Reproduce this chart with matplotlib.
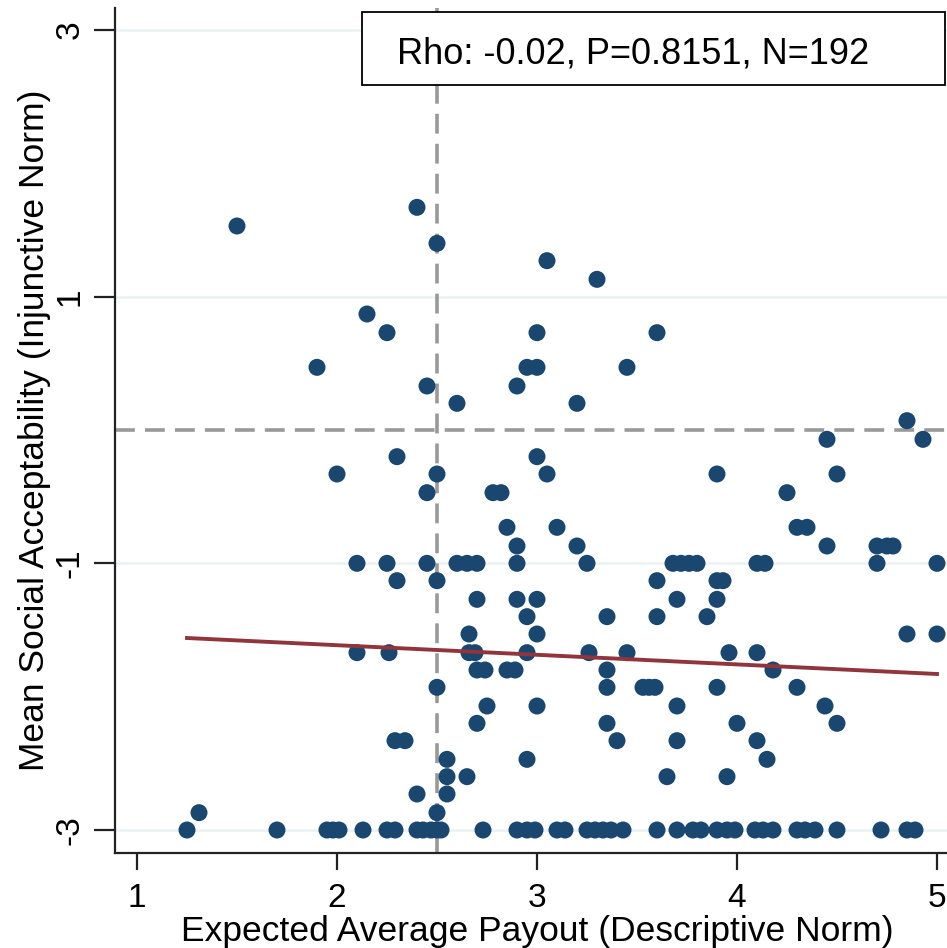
import matplotlib
matplotlib.use("Agg")
import matplotlib.pyplot as plt
import matplotlib.patches as mpatches
import numpy as np

# ---------------- data ----------------
x_vals = [
    # upper part
    1.50, 2.40, 2.50, 3.05, 3.30, 2.15, 2.25, 1.90, 2.45, 2.60,
    3.00, 2.95, 3.00, 2.90, 3.60, 3.45, 3.20, 3.00, 3.05, 2.78,
    2.82, 2.30, 2.00, 2.50, 2.45, 3.90, 4.25, 4.30, 4.35, 4.45,
    4.50, 4.85, 4.93, 4.45, 2.85, 2.90, 3.10, 3.20, 4.70, 4.75, 4.78,
    # y = -1
    2.10, 2.25, 2.45, 2.60, 2.65, 2.70, 2.90, 3.25, 3.68, 3.72,
    3.76, 3.80, 4.10, 4.14, 4.70, 5.00,
    # y = -1.13
    2.30, 2.50, 3.60, 3.90, 3.93,
    # y = -1.27
    2.70, 2.90, 3.00, 3.70, 3.90,
    # y = -1.40
    2.95, 3.35, 3.60, 3.85,
    # y = -1.53
    2.66, 3.00, 4.85, 5.00,
    # y = -1.67
    2.10, 2.26, 2.66, 2.69, 2.95, 3.26, 3.45, 3.96, 4.10,
    # y = -1.80
    2.70, 2.74, 2.85, 2.89, 3.35, 4.18,
    # y = -1.93
    2.50, 3.35, 3.53, 3.56, 3.59, 3.90, 4.30,
    # y = -2.07
    2.75, 3.00, 3.70, 4.44,
    # y = -2.20
    2.70, 3.35, 4.00, 4.50,
    # y = -2.33
    2.29, 2.34, 3.40, 3.70, 4.10,
    # y = -2.47
    2.55, 2.95, 4.15,
    # y = -2.60
    2.55, 2.65, 3.65, 3.95,
    # y = -2.73
    2.40, 2.55,
    # y = -2.87
    1.31, 2.50,
    # y = -3
    1.25, 1.70, 1.95, 1.98, 2.01, 2.13, 2.25, 2.29, 2.40, 2.43,
    2.47, 2.50, 2.52, 2.73, 2.90, 2.95, 2.99, 3.10, 3.14, 3.25,
    3.29, 3.33, 3.37, 3.43, 3.60, 3.70, 3.78, 3.82, 3.90, 3.95,
    3.99, 4.09, 4.13, 4.18, 4.30, 4.34, 4.39, 4.50, 4.72, 4.85, 4.89,
]

y_vals = [
    # upper part
    1.53, 1.67, 1.40, 1.27, 1.13, 0.87, 0.73, 0.47, 0.33, 0.20,
    0.73, 0.47, 0.47, 0.33, 0.73, 0.47, 0.20, -0.20, -0.33, -0.47,
    -0.47, -0.20, -0.33, -0.33, -0.47, -0.33, -0.47, -0.73, -0.73, -0.07,
    -0.33, 0.07, -0.07, -0.87, -0.73, -0.87, -0.73, -0.87, -0.87, -0.87, -0.87,
    # y = -1
    -1.0, -1.0, -1.0, -1.0, -1.0, -1.0, -1.0, -1.0, -1.0, -1.0,
    -1.0, -1.0, -1.0, -1.0, -1.0, -1.0,
    # -1.13
    -1.13, -1.13, -1.13, -1.13, -1.13,
    # -1.27
    -1.27, -1.27, -1.27, -1.27, -1.27,
    # -1.40
    -1.40, -1.40, -1.40, -1.40,
    # -1.53
    -1.53, -1.53, -1.53, -1.53,
    # -1.67
    -1.67, -1.67, -1.67, -1.67, -1.67, -1.67, -1.67, -1.67, -1.67,
    # -1.80
    -1.80, -1.80, -1.80, -1.80, -1.80, -1.80,
    # -1.93
    -1.93, -1.93, -1.93, -1.93, -1.93, -1.93, -1.93,
    # -2.07
    -2.07, -2.07, -2.07, -2.07,
    # -2.20
    -2.20, -2.20, -2.20, -2.20,
    # -2.33
    -2.33, -2.33, -2.33, -2.33, -2.33,
    # -2.47
    -2.47, -2.47, -2.47,
    # -2.60
    -2.60, -2.60, -2.60, -2.60,
    # -2.73
    -2.73, -2.73,
    # -2.87
    -2.87, -2.87,
    # -3
    -3.0, -3.0, -3.0, -3.0, -3.0, -3.0, -3.0, -3.0, -3.0, -3.0,
    -3.0, -3.0, -3.0, -3.0, -3.0, -3.0, -3.0, -3.0, -3.0, -3.0,
    -3.0, -3.0, -3.0, -3.0, -3.0, -3.0, -3.0, -3.0, -3.0, -3.0,
    -3.0, -3.0, -3.0, -3.0, -3.0, -3.0, -3.0, -3.0, -3.0, -3.0, -3.0,
]

fit_intercept = -1.47
fit_slope = -0.072
ref_x = 2.5
ref_y = 0.0
x_ticks = [1, 2, 3, 4, 5]
y_ticks = [-3, -1, 1, 3]
stats_text = "Rho: -0.02, P=0.8151, N=192"
x_label = "Expected Average Payout (Descriptive Norm)"
y_label = "Mean Social Acceptability (Injunctive Norm)"

# ---------------- style ----------------
plt.rcParams['font.family'] = ['Liberation Sans', 'DejaVu Sans']
plt.rcParams['axes.unicode_minus'] = False

W, H = 947, 948
fig = plt.figure(figsize=(W / 100, H / 100), dpi=100)
fig.patch.set_facecolor('white')
ax = fig.add_axes([115 / W, 1 - 853 / H, (W - 115) / W, (853 - 8) / H])

ax.set_xlim(0.89, 5.05)
ax.set_ylim(-3.1725, 3.165)

for s in ['top', 'right']:
    ax.spines[s].set_visible(False)
for s in ['left', 'bottom']:
    ax.spines[s].set_linewidth(1.6)
    ax.spines[s].set_color('#222222')

ax.set_yticks(y_ticks)
ax.set_xticks(x_ticks)
ax.set_xticklabels([str(t) for t in x_ticks], fontsize=24)
ax.set_yticklabels([str(t) for t in y_ticks], fontsize=24, rotation=90, va='center')
ax.tick_params(axis='x', length=12, width=1.6, color='#222222', pad=9.5)
ax.tick_params(axis='y', length=15, width=1.6, color='#222222', pad=6)

ax.yaxis.grid(True, color='#EAF2F3', linewidth=1.8)
ax.set_axisbelow(True)

# reference lines
ax.axvline(ref_x, color='#999999', linewidth=2.6, dashes=(5.5, 2.8), zorder=1)
ax.axhline(ref_y, color='#999999', linewidth=2.6, dashes=(5.5, 2.8), zorder=1)

# scatter
ax.scatter(x_vals, y_vals, s=150, color='#1a476f', edgecolors='none', zorder=3)

# linear fit
xf = np.array([min(x_vals), max(x_vals)])
ax.plot(xf, fit_intercept + fit_slope * xf, color='#90353b', linewidth=2.8, zorder=4)

# labels
ax.set_xlabel(x_label, fontsize=25.5)
ax.xaxis.set_label_coords((537 - 115) / (W - 115), -(915 - 853) / (853 - 8))
ax.set_ylabel(y_label, fontsize=25.5)
ax.yaxis.set_label_coords((51 - 115) / (W - 115), (853 - 430) / (853 - 8))

# statistics box
rect = mpatches.Rectangle((362 / W, 1 - 85 / H), (945 - 362) / W, (85 - 12) / H,
                          transform=fig.transFigure, facecolor='white',
                          edgecolor='black', linewidth=1.3, zorder=5)
fig.patches.append(rect)
fig.text(397 / W, 1 - 63 / H, stats_text, fontsize=26, ha='left', va='baseline', zorder=6)

fig.savefig('out.png', dpi=100, facecolor='white')
